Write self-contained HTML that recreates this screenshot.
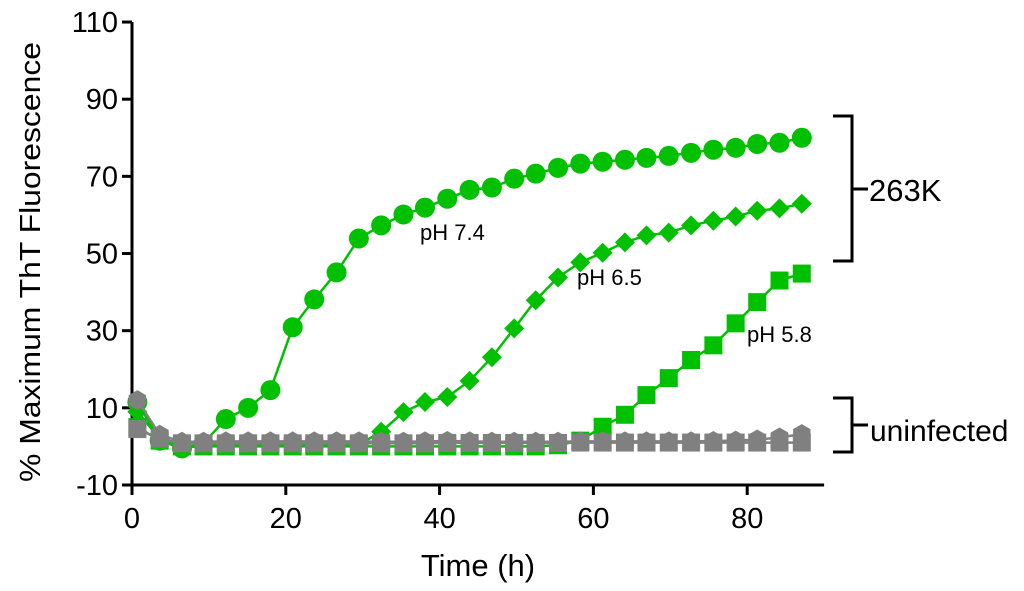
<!DOCTYPE html>
<html><head><meta charset="utf-8"><style>
html,body{margin:0;padding:0;background:#fff;}
svg{display:block;font-family:"Liberation Sans",Arial,sans-serif;}
</style></head><body>
<svg id="chart" width="1024" height="591" viewBox="0 0 1024 591">
<g id="axes"></g>
<g id="series"></g>
<text x="30" y="262" font-size="29" text-anchor="middle" textLength="440" lengthAdjust="spacingAndGlyphs" transform="rotate(-90 30 262) translate(0 10)">% Maximum ThT Fluorescence</text>
<text x="478" y="576" font-size="31" text-anchor="middle">Time (h)</text>
<text x="420" y="240" font-size="22">pH 7.4</text>
<text x="577" y="285" font-size="22">pH 6.5</text>
<text x="747" y="342" font-size="22">pH 5.8</text>
<g stroke="#000" stroke-width="3" fill="none">
<path d="M833,116 H852 V261 H833 M852,189 H868"/>
</g>
<text x="869" y="201" font-size="31">263K</text>
<g stroke="#000" stroke-width="3" fill="none">
<path d="M833,398 H852 V452 H833 M852,425 H868"/>
</g>
<text x="870" y="441" font-size="30">uninfected</text>
</svg>
<script>
const times = [0.7,3.6,6.5,9.3,12.2,15.1,18.0,20.9,23.7,26.6,29.5,32.4,35.3,38.1,41.0,43.9,46.8,49.7,52.5,55.4,58.3,61.2,64.1,66.9,69.8,72.7,75.6,78.5,81.3,84.2,87.1];
const ph74 = [11.5,1.5,-0.5,0.8,7.1,10.0,14.6,30.9,38.1,45.1,53.9,57.3,60.1,61.9,64.2,66.5,67.1,69.4,70.7,72.2,73.3,73.8,74.3,74.8,75.3,76.1,76.9,77.4,78.4,78.7,80.0];
const ph65 = [9,2,-0.5,0.3,0.3,0.3,0.3,0.3,0.3,0.3,0.5,3.8,8.9,11.5,12.8,17,23.1,30.6,37.9,43.8,47.7,50.2,52.9,54.7,55.4,57.3,58.5,59.6,61.1,61.7,62.9];
const ph58 = [5,1.5,0,0,0,0,0,0,0,0,0,0,0,0,0,0,0,0,0,0.3,1.5,5.1,8.2,13.3,17.7,22.4,26.2,31.9,37.4,43.0,44.8];
const uninfA = [12,3,1.2,1.2,1.3,1.3,1.3,1.3,1.3,1.3,1.3,1.2,1.2,1.3,1.4,1.3,1.2,1.2,1.2,1.2,1.3,1.3,1.3,1.3,1.3,1.3,1.4,1.5,1.8,2.3,3.2];
const uninfB = [4.5,2,0.8,0.8,0.8,0.8,0.8,0.8,0.8,0.8,0.8,0.8,0.8,0.8,0.9,0.9,0.9,0.9,0.9,0.9,1.0,1.0,1.0,1.0,1.0,1.0,1.0,1.0,1.0,1.0,1.0];
const xTicks = [0,20,40,60,80];
const yTicks = [-10,10,30,50,70,90,110];

const NS = "http://www.w3.org/2000/svg";
const X0 = 132, XS = 7.69, Y0 = 485, YS = 3.858;
function sx(t){ return X0 + t*XS; }
function sy(v){ return Y0 - (v+10)*YS; }
function mk(tag, attrs, parent){ const e=document.createElementNS(NS,tag); for(const k in attrs) e.setAttribute(k,attrs[k]); parent.appendChild(e); return e; }

const axes = document.getElementById('axes');
let yl = mk('line',{x1:X0,y1:sy(110),x2:X0,y2:Y0,stroke:'#000','stroke-width':3},axes);


let xl = mk('line',{x1:X0-10,y1:Y0,x2:sx(90),y2:Y0,stroke:'#000','stroke-width':3},axes);


yTicks.forEach(v=>{
  const tk = mk('line',{x1:X0-10,y1:sy(v),x2:X0,y2:sy(v),stroke:'#000','stroke-width':3},axes);
  
  
  const tl = mk('text',{x:X0-14,y:sy(v)+10,'font-size':29,'text-anchor':'end'},axes);
  tl.textContent = v;
  
  
});
xTicks.forEach(t=>{
  const tk = mk('line',{x1:sx(t),y1:Y0,x2:sx(t),y2:Y0+10,stroke:'#000','stroke-width':3},axes);
  
  
  const tl = mk('text',{x:sx(t),y:Y0+43,'font-size':29,'text-anchor':'middle'},axes);
  tl.textContent = t;
  
  
});

const sg = document.getElementById('series');
function marker(shape, cx, cy, col, g){
  let e;
  if(shape==='circle') e = mk('circle',{cx:cx,cy:cy,r:10,fill:col},g);
  else if(shape==='square') e = mk('rect',{x:cx-9,y:cy-9,width:18,height:18,fill:col},g);
  else if(shape==='diamond') e = mk('polygon',{points:`${cx},${cy-10} ${cx+10},${cy} ${cx},${cy+10} ${cx-10},${cy}`,fill:col},g);
  else { const r=10; let p=[]; for(let k=0;k<6;k++){const a=Math.PI/3*k+Math.PI/6; p.push((cx+r*Math.cos(a)).toFixed(1)+','+(cy-r*Math.sin(a)).toFixed(1));} e = mk('polygon',{points:p.join(' '),fill:col},g); }
  return e;
}
function drawSeries(vals, shape, col, name){
  const g = mk('g',{},sg);
  
  
  const pts = vals.map((v,i)=>sx(times[i]).toFixed(1)+','+sy(v).toFixed(1)).join(' ');
  const pl = mk('polyline',{points:pts,fill:'none',stroke:col,'stroke-width':2.5},g);
  
  
  vals.forEach((v,i)=>{
    const m = marker(shape, sx(times[i]), sy(v), col, g);
    
    
  });
}
drawSeries(ph74,'circle','#00c000','series-ph74');
drawSeries(ph65,'diamond','#00c000','series-ph65');
drawSeries(ph58,'square','#00c000','series-ph58');
drawSeries(uninfA,'hex','#808080','series-uninfected-a');
drawSeries(uninfB,'square','#808080','series-uninfected-b');
</script>
</body></html>
